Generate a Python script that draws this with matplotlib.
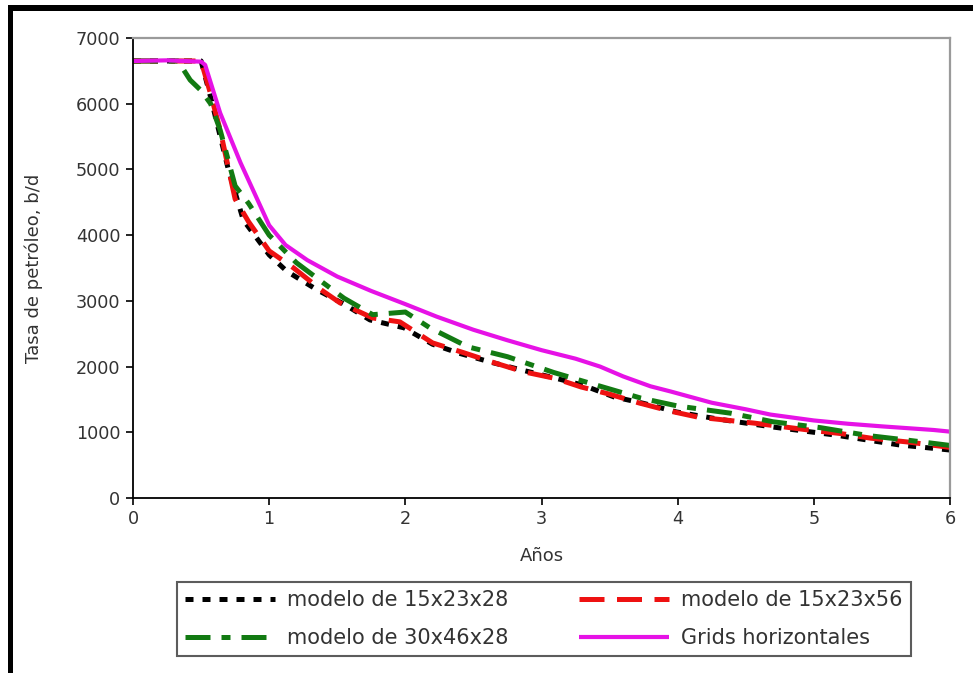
import matplotlib
matplotlib.use("Agg")
import matplotlib.pyplot as plt
from matplotlib.patches import Rectangle

plt.rcParams['font.family'] = ['DejaVu Sans']

# Data (years, oil rate in b/d)
years_black = [0, 0.5, 0.57, 0.7, 0.81, 1.0, 1.13, 1.35, 1.55, 1.74, 1.99, 2.2, 2.4, 2.64,
               2.85, 3.09, 3.3, 3.53, 3.75, 3.99, 4.3, 4.7, 5.15, 5.4, 5.62, 6.0]
rate_black = [6650, 6650, 6100, 5000, 4230, 3700, 3450, 3170, 2950, 2710, 2590, 2340, 2200, 2060,
              1950, 1830, 1720, 1540, 1440, 1310, 1200, 1080, 960, 880, 810, 730]

years_red = [0, 0.5, 0.57, 0.64, 0.75, 0.85, 1.0, 1.18, 1.38, 1.52, 1.76, 1.96, 2.2, 2.43,
             2.65, 2.87, 3.1, 3.29, 3.5, 3.71, 3.95, 4.15, 4.56, 4.96, 5.2, 5.42, 5.7, 6.0]
rate_red = [6650, 6650, 6150, 5600, 4550, 4200, 3760, 3500, 3170, 2970, 2740, 2680, 2360, 2210,
            2060, 1920, 1820, 1690, 1580, 1450, 1320, 1230, 1140, 1035, 980, 910, 850, 770]

years_green = [0, 0.33, 0.42, 0.5, 0.57, 0.64, 0.75, 0.85, 1.0, 1.2, 1.4, 1.55, 1.76, 2.0,
               2.18, 2.46, 2.75, 3.09, 3.4, 3.73, 4.0, 4.39, 4.7, 5.05, 5.4, 5.69, 6.0]
rate_green = [6650, 6650, 6360, 6200, 6000, 5600, 4750, 4480, 4000, 3580, 3270, 3040, 2790, 2830,
              2590, 2300, 2150, 1910, 1720, 1520, 1400, 1290, 1160, 1070, 950, 880, 800]

years_mag = [0, 0.25, 0.5, 0.53, 0.64, 0.79, 1.0, 1.12, 1.28, 1.5, 1.75, 2.0, 2.23, 2.5, 2.75,
             3.0, 3.25, 3.43, 3.6, 3.8, 3.95, 4.25, 4.5, 4.68, 5.0, 5.25, 5.5, 5.88, 6.0]
rate_mag = [6650, 6660, 6640, 6590, 5860, 5100, 4150, 3850, 3620, 3370, 3150, 2950, 2760, 2560, 2400,
            2250, 2120, 2000, 1850, 1700, 1620, 1450, 1350, 1270, 1180, 1130, 1090, 1035, 1010]

labels = ["modelo de 15x23x28", "modelo de 15x23x56", "modelo de 30x46x28", "Grids horizontales"]

fig = plt.figure(figsize=(9.73, 6.73), dpi=100)
ax = fig.add_axes([133 / 973, 1 - 498 / 673, (950 - 133) / 973, (498 - 38) / 673])

l_black, = ax.plot(years_black, rate_black, color='black', lw=3.6, linestyle=(0, (1.6, 1.8)))
l_red, = ax.plot(years_red, rate_red, color='#ee1111', lw=3.6, linestyle=(0, (5, 2.5)))
l_green, = ax.plot(years_green, rate_green, color='#127a12', lw=3.6, linestyle=(0, (5, 2.2, 1.8, 2.2)))
l_mag, = ax.plot(years_mag, rate_mag, color='#e612e6', lw=3.0, solid_capstyle='butt')

ax.set_xlim(0, 6)
ax.set_ylim(0, 7000)
ax.set_xticks(range(0, 7))
ax.set_yticks(range(0, 7001, 1000))
ax.tick_params(direction='out', length=5, width=1.2, colors='black', labelcolor='#333333',
               labelsize=12.7, pad=4)

for side in ['left', 'bottom']:
    ax.spines[side].set_color('black')
    ax.spines[side].set_linewidth(1.3)
for side in ['top', 'right']:
    ax.spines[side].set_color('#9a9a9a')
    ax.spines[side].set_linewidth(1.6)

ax.set_xlabel("Años", fontsize=13, color='#333333', labelpad=13)
ax.set_ylabel("Tasa de petróleo, b/d", fontsize=13, color='#333333', labelpad=24)

leg = fig.legend([l_black, l_green, l_red, l_mag],
                 [labels[0], labels[2], labels[1], labels[3]],
                 ncol=2, loc='center', bbox_to_anchor=(544 / 973, 1 - 619 / 673),
                 fontsize=15, handlelength=4.3, handletextpad=0.6, columnspacing=3.4,
                 labelspacing=0.85, borderpad=0.38, borderaxespad=0, fancybox=False,
                 frameon=True, labelcolor='#333333')
leg.get_frame().set_edgecolor('#333333')
leg.get_frame().set_linewidth(1.5)

# black frame around the picture (top and left edges)
fig.add_artist(Rectangle((8 / 973, 1 - 11 / 673), 1, 6 / 673, transform=fig.transFigure,
                         color='black', lw=0))
fig.add_artist(Rectangle((8 / 973, 0), 5 / 973, 1 - 5 / 673, transform=fig.transFigure,
                         color='black', lw=0))

fig.savefig("out.png", dpi=100)
